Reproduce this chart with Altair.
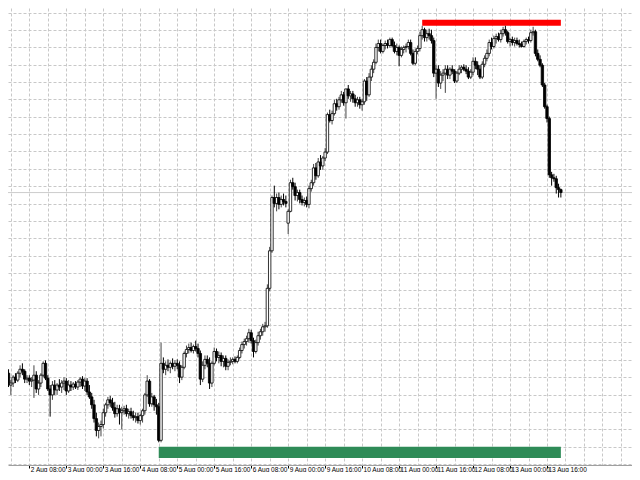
import json
import altair as alt
import pandas as pd

# Hourly candles (bar index 0 = 30 Jul 20:00 ... 242 = 13 Aug 22:00), prices
open_ = [0.90470, 0.90490, 0.90470, 0.90460, 0.90400, 0.90410, 0.90440, 0.90425, 0.90460, 0.90480,
         0.90470, 0.90430, 0.90435, 0.90420, 0.90425, 0.90450, 0.90380, 0.90410, 0.90450, 0.90510,
         0.90435, 0.90380, 0.90350, 0.90400, 0.90375, 0.90400, 0.90390, 0.90410, 0.90420, 0.90370,
         0.90400, 0.90390, 0.90405, 0.90390, 0.90415, 0.90430, 0.90395, 0.90420, 0.90365, 0.90340,
         0.90300, 0.90230, 0.90170, 0.90190, 0.90200, 0.90260, 0.90300, 0.90325, 0.90310, 0.90285,
         0.90255, 0.90280, 0.90260, 0.90270, 0.90280, 0.90255, 0.90265, 0.90245, 0.90235, 0.90240,
         0.90220, 0.90245, 0.90270, 0.90350, 0.90420, 0.90305, 0.90340, 0.90300, 0.90290, 0.90120,
         0.90510, 0.90480, 0.90500, 0.90490, 0.90510, 0.90495, 0.90510, 0.90500, 0.90440, 0.90490,
         0.90560, 0.90580, 0.90590, 0.90575, 0.90595, 0.90585, 0.90560, 0.90430, 0.90500, 0.90530,
         0.90510, 0.90410, 0.90510, 0.90570, 0.90540, 0.90550, 0.90520, 0.90535, 0.90495, 0.90515,
         0.90520, 0.90530, 0.90520, 0.90540, 0.90575, 0.90605, 0.90620, 0.90635, 0.90665, 0.90625,
         0.90570, 0.90615, 0.90650, 0.90670, 0.90695, 0.90700, 0.90890, 0.91080, 0.91350, 0.91320,
         0.91350, 0.91315, 0.91340, 0.91330, 0.91220, 0.91280, 0.91425, 0.91405, 0.91360, 0.91375,
         0.91340, 0.91325, 0.91335, 0.91315, 0.91395, 0.91425, 0.91500, 0.91460, 0.91530, 0.91510,
         0.91550, 0.91580, 0.91770, 0.91740, 0.91775, 0.91825, 0.91810, 0.91845, 0.91870, 0.91830,
         0.91900, 0.91865, 0.91875, 0.91850, 0.91830, 0.91845, 0.91820, 0.91835, 0.91940, 0.91870,
         0.91960, 0.92000, 0.92035, 0.92110, 0.92130, 0.92090, 0.92120, 0.92130, 0.92120, 0.92150,
         0.92120, 0.92090, 0.92110, 0.92070, 0.92100, 0.92110, 0.92115, 0.92135, 0.92080, 0.92030,
         0.92090, 0.92105, 0.92170, 0.92200, 0.92160, 0.92180, 0.92170, 0.92145, 0.91980, 0.92000,
         0.91930, 0.91970, 0.91980, 0.92000, 0.91970, 0.92000, 0.91990, 0.91940, 0.91980, 0.92000,
         0.92010, 0.92000, 0.91990, 0.91960, 0.91985, 0.92040, 0.92020, 0.92000, 0.91960, 0.92025,
         0.92055, 0.92080, 0.92135, 0.92115, 0.92155, 0.92165, 0.92150, 0.92180, 0.92200, 0.92185,
         0.92140, 0.92150, 0.92135, 0.92145, 0.92130, 0.92125, 0.92115, 0.92140, 0.92150, 0.92145,
         0.92185, 0.92190, 0.92080, 0.92050, 0.92020, 0.91920, 0.91810, 0.91750, 0.91465, 0.91450,
         0.91445, 0.91400, 0.91390]

high = [0.90500, 0.90510, 0.90490, 0.90480, 0.90425, 0.90450, 0.90460, 0.90470, 0.90500, 0.90510,
        0.90480, 0.90450, 0.90450, 0.90440, 0.90500, 0.90470, 0.90425, 0.90460, 0.90520, 0.90525,
        0.90450, 0.90400, 0.90420, 0.90425, 0.90410, 0.90430, 0.90425, 0.90440, 0.90435, 0.90425,
        0.90420, 0.90415, 0.90420, 0.90425, 0.90440, 0.90445, 0.90435, 0.90435, 0.90400, 0.90360,
        0.90325, 0.90260, 0.90210, 0.90220, 0.90280, 0.90310, 0.90340, 0.90345, 0.90335, 0.90315,
        0.90300, 0.90300, 0.90290, 0.90295, 0.90300, 0.90280, 0.90285, 0.90270, 0.90260, 0.90260,
        0.90255, 0.90280, 0.90360, 0.90450, 0.90430, 0.90360, 0.90350, 0.90330, 0.90310, 0.90615,
        0.90540, 0.90520, 0.90530, 0.90520, 0.90535, 0.90525, 0.90530, 0.90520, 0.90500, 0.90570,
        0.90600, 0.90610, 0.90615, 0.90605, 0.90625, 0.90610, 0.90575, 0.90520, 0.90550, 0.90550,
        0.90540, 0.90520, 0.90590, 0.90585, 0.90570, 0.90565, 0.90550, 0.90550, 0.90530, 0.90540,
        0.90540, 0.90545, 0.90550, 0.90590, 0.90620, 0.90635, 0.90650, 0.90685, 0.90680, 0.90640,
        0.90630, 0.90670, 0.90685, 0.90710, 0.90720, 0.90910, 0.91100, 0.91360, 0.91410, 0.91370,
        0.91375, 0.91360, 0.91370, 0.91360, 0.91290, 0.91440, 0.91450, 0.91425, 0.91390, 0.91390,
        0.91360, 0.91350, 0.91355, 0.91410, 0.91440, 0.91520, 0.91525, 0.91550, 0.91565, 0.91560,
        0.91600, 0.91780, 0.91795, 0.91790, 0.91845, 0.91850, 0.91860, 0.91890, 0.91885, 0.91900,
        0.91920, 0.91890, 0.91890, 0.91870, 0.91860, 0.91860, 0.91850, 0.91950, 0.91960, 0.91980,
        0.92020, 0.92050, 0.92130, 0.92150, 0.92150, 0.92130, 0.92145, 0.92150, 0.92160, 0.92160,
        0.92140, 0.92130, 0.92120, 0.92115, 0.92120, 0.92130, 0.92150, 0.92150, 0.92100, 0.92105,
        0.92120, 0.92190, 0.92220, 0.92210, 0.92200, 0.92205, 0.92200, 0.92160, 0.92020, 0.92020,
        0.91990, 0.92000, 0.92020, 0.92020, 0.92010, 0.92020, 0.92000, 0.91990, 0.92020, 0.92020,
        0.92025, 0.92020, 0.92010, 0.92000, 0.92060, 0.92060, 0.92040, 0.92020, 0.92040, 0.92070,
        0.92100, 0.92150, 0.92160, 0.92170, 0.92180, 0.92185, 0.92200, 0.92215, 0.92220, 0.92195,
        0.92160, 0.92165, 0.92160, 0.92160, 0.92150, 0.92140, 0.92150, 0.92160, 0.92165, 0.92200,
        0.92215, 0.92200, 0.92100, 0.92070, 0.92030, 0.91930, 0.91820, 0.91760, 0.91480, 0.91470,
        0.91460, 0.91420, 0.91395]

low = [0.90450, 0.90460, 0.90440, 0.90390, 0.90350, 0.90390, 0.90410, 0.90415, 0.90440, 0.90450,
       0.90410, 0.90410, 0.90400, 0.90390, 0.90335, 0.90360, 0.90350, 0.90390, 0.90440, 0.90425,
       0.90370, 0.90240, 0.90325, 0.90350, 0.90350, 0.90370, 0.90360, 0.90375, 0.90350, 0.90360,
       0.90370, 0.90375, 0.90380, 0.90375, 0.90390, 0.90380, 0.90370, 0.90350, 0.90330, 0.90280,
       0.90210, 0.90140, 0.90130, 0.90140, 0.90180, 0.90240, 0.90280, 0.90290, 0.90270, 0.90235,
       0.90240, 0.90200, 0.90175, 0.90250, 0.90240, 0.90230, 0.90230, 0.90220, 0.90210, 0.90205,
       0.90200, 0.90210, 0.90250, 0.90340, 0.90290, 0.90290, 0.90270, 0.90250, 0.90110, 0.90110,
       0.90460, 0.90450, 0.90470, 0.90460, 0.90480, 0.90470, 0.90480, 0.90410, 0.90425, 0.90480,
       0.90540, 0.90560, 0.90565, 0.90560, 0.90570, 0.90540, 0.90400, 0.90415, 0.90480, 0.90490,
       0.90380, 0.90390, 0.90500, 0.90520, 0.90510, 0.90495, 0.90490, 0.90475, 0.90475, 0.90500,
       0.90505, 0.90510, 0.90510, 0.90530, 0.90560, 0.90585, 0.90600, 0.90615, 0.90610, 0.90540,
       0.90560, 0.90600, 0.90630, 0.90650, 0.90670, 0.90690, 0.90875, 0.91070, 0.91300, 0.91280,
       0.91290, 0.91300, 0.91310, 0.91300, 0.91165, 0.91275, 0.91390, 0.91335, 0.91330, 0.91320,
       0.91310, 0.91305, 0.91300, 0.91295, 0.91380, 0.91410, 0.91440, 0.91450, 0.91490, 0.91490,
       0.91535, 0.91570, 0.91730, 0.91720, 0.91765, 0.91790, 0.91795, 0.91830, 0.91815, 0.91750,
       0.91850, 0.91835, 0.91830, 0.91810, 0.91810, 0.91800, 0.91790, 0.91820, 0.91840, 0.91860,
       0.91940, 0.91980, 0.92025, 0.92090, 0.92080, 0.92080, 0.92100, 0.92105, 0.92110, 0.92110,
       0.92080, 0.92070, 0.92015, 0.92060, 0.92080, 0.92085, 0.92100, 0.92070, 0.92020, 0.92020,
       0.92075, 0.92090, 0.92150, 0.92140, 0.92140, 0.92150, 0.92130, 0.91960, 0.91850, 0.91910,
       0.91900, 0.91940, 0.91880, 0.91950, 0.91950, 0.91975, 0.91930, 0.91930, 0.91970, 0.91980,
       0.91990, 0.91975, 0.91950, 0.91950, 0.91970, 0.92000, 0.91970, 0.91950, 0.91950, 0.92010,
       0.92040, 0.92065, 0.92100, 0.92105, 0.92130, 0.92140, 0.92135, 0.92165, 0.92170, 0.92130,
       0.92115, 0.92120, 0.92115, 0.92120, 0.92110, 0.92110, 0.92110, 0.92125, 0.92130, 0.92135,
       0.92170, 0.92065, 0.92040, 0.92010, 0.91910, 0.91800, 0.91730, 0.91450, 0.91410, 0.91430,
       0.91370, 0.91350, 0.91350]

close = [0.90490, 0.90470, 0.90460, 0.90400, 0.90410, 0.90440, 0.90425, 0.90460, 0.90480, 0.90470,
         0.90430, 0.90435, 0.90420, 0.90425, 0.90450, 0.90380, 0.90410, 0.90450, 0.90510, 0.90435,
         0.90380, 0.90350, 0.90400, 0.90375, 0.90400, 0.90390, 0.90410, 0.90420, 0.90370, 0.90400,
         0.90390, 0.90405, 0.90390, 0.90415, 0.90430, 0.90395, 0.90420, 0.90365, 0.90340, 0.90300,
         0.90230, 0.90170, 0.90190, 0.90200, 0.90260, 0.90300, 0.90325, 0.90310, 0.90285, 0.90255,
         0.90280, 0.90260, 0.90270, 0.90280, 0.90255, 0.90265, 0.90245, 0.90235, 0.90240, 0.90220,
         0.90245, 0.90270, 0.90350, 0.90420, 0.90305, 0.90340, 0.90300, 0.90290, 0.90120, 0.90510,
         0.90480, 0.90500, 0.90490, 0.90510, 0.90495, 0.90510, 0.90500, 0.90440, 0.90490, 0.90560,
         0.90580, 0.90590, 0.90575, 0.90595, 0.90585, 0.90560, 0.90430, 0.90500, 0.90530, 0.90510,
         0.90410, 0.90510, 0.90570, 0.90540, 0.90550, 0.90520, 0.90535, 0.90495, 0.90515, 0.90520,
         0.90530, 0.90520, 0.90540, 0.90575, 0.90605, 0.90620, 0.90635, 0.90665, 0.90625, 0.90570,
         0.90615, 0.90650, 0.90670, 0.90695, 0.90700, 0.90890, 0.91080, 0.91350, 0.91320, 0.91350,
         0.91315, 0.91340, 0.91330, 0.91320, 0.91280, 0.91425, 0.91405, 0.91360, 0.91375, 0.91340,
         0.91325, 0.91335, 0.91315, 0.91395, 0.91425, 0.91500, 0.91460, 0.91530, 0.91510, 0.91550,
         0.91580, 0.91770, 0.91740, 0.91775, 0.91825, 0.91810, 0.91845, 0.91870, 0.91830, 0.91900,
         0.91865, 0.91875, 0.91850, 0.91830, 0.91845, 0.91820, 0.91835, 0.91940, 0.91870, 0.91960,
         0.92000, 0.92035, 0.92110, 0.92130, 0.92090, 0.92120, 0.92130, 0.92120, 0.92150, 0.92120,
         0.92090, 0.92110, 0.92070, 0.92100, 0.92110, 0.92115, 0.92135, 0.92080, 0.92030, 0.92090,
         0.92105, 0.92170, 0.92200, 0.92160, 0.92180, 0.92170, 0.92145, 0.91980, 0.92000, 0.91930,
         0.91970, 0.91980, 0.92000, 0.91970, 0.92000, 0.91990, 0.91940, 0.91980, 0.92000, 0.92010,
         0.92000, 0.91990, 0.91960, 0.91985, 0.92040, 0.92020, 0.92000, 0.91960, 0.92025, 0.92055,
         0.92080, 0.92135, 0.92115, 0.92155, 0.92165, 0.92150, 0.92180, 0.92200, 0.92185, 0.92140,
         0.92150, 0.92135, 0.92145, 0.92130, 0.92125, 0.92115, 0.92140, 0.92150, 0.92145, 0.92185,
         0.92190, 0.92080, 0.92050, 0.92020, 0.91920, 0.91810, 0.91750, 0.91465, 0.91450, 0.91445,
         0.91400, 0.91390, 0.91375]

# Time-scale labels (bar index of each label)
tick_bars = [12, 28, 44, 60, 76, 92, 108, 124, 140, 156, 172, 188, 204, 220, 236]
tick_labels = ["2 Aug 08:00", "3 Aug 00:00", "3 Aug 16:00", "4 Aug 08:00", "5 Aug 00:00",
               "5 Aug 16:00", "6 Aug 08:00", "9 Aug 00:00", "9 Aug 16:00", "10 Aug 08:00",
               "11 Aug 00:00", "11 Aug 16:00", "12 Aug 08:00", "13 Aug 00:00", "13 Aug 16:00"]

# Range rectangles (support / resistance)
zone_start = [68, 182]
zone_end = [242, 242]
zone_low = [0.90030, 0.92220]
zone_high = [0.90087, 0.92250]
zone_color = ["#2e8b57", "#ff0000"]

bid_price = [0.91375]

# ---- styling / layout ----
grid_base = 0.9
grid_step = 0.0008795
x_domain = [2.77, 272.78]
y_domain = [0.89995, 0.92310]

df = pd.DataFrame({"bar": list(range(len(open_))), "open": open_, "high": high,
                   "low": low, "close": close})
zdf = pd.DataFrame({"start": zone_start, "end": zone_end, "lo": zone_low,
                    "hi": zone_high, "color": zone_color})
bdf = pd.DataFrame({"price": bid_price})

xs = alt.Scale(domain=x_domain, nice=False, zero=False, padding=0)
ys = alt.Scale(domain=y_domain, nice=False, zero=False, padding=0)

grid_color = "#c8c8c8"
grid_x_axis = alt.Axis(values=list(range(4, 273, 8)), grid=True, gridColor=grid_color,
                       gridDash=[3, 2], gridWidth=1, labels=False, ticks=False,
                       domain=False, title=None, orient="bottom")
grid_y_axis = alt.Axis(values=[round(grid_base + k * grid_step, 7) for k in range(27)],
                       grid=True, gridColor=grid_color, gridDash=[3, 2], gridWidth=1,
                       labels=False, ticks=False, domain=False, title=None)

label_expr = json.dumps(tick_labels) + "[round((datum.value - 12) / 16)]"
label_x_axis = alt.Axis(values=tick_bars, labelExpr=label_expr, grid=False, ticks=True,
                        tickSize=3, tickColor="#000000", tickWidth=1, domain=True,
                        domainColor="#a0a0a0", domainWidth=1, labelAlign="left",
                        labelBaseline="top", labelPadding=-2, labelOffset=1,
                        labelFont="Liberation Sans Narrow, Liberation Sans",
                        labelFontSize=6.5, labelColor="#000000", labelOverlap=False,
                        labelFlush=False, title=None, orient="bottom")

bull = "datum.close >= datum.open"

zones = alt.Chart(zdf).mark_rect(clip=True).encode(
    x=alt.X("start:Q", scale=xs, axis=None), x2="end:Q",
    y=alt.Y("lo:Q", scale=ys, axis=None), y2="hi:Q",
    color=alt.Color("color:N", scale=None))

bid = alt.Chart(bdf).mark_rule(color="#cccccc", strokeWidth=1).encode(
    y=alt.Y("price:Q", scale=ys, axis=None))

wicks = alt.Chart(df).mark_rule(clip=True, strokeWidth=1).encode(
    x=alt.X("bar:Q", scale=xs, axis=grid_x_axis),
    y=alt.Y("low:Q", scale=ys, axis=grid_y_axis), y2="high:Q",
    color=alt.condition(bull, alt.value("#444444"), alt.value("#000000")))

bodies = alt.Chart(df).mark_bar(size=2.4, clip=True, stroke="#000000", strokeWidth=0.8).encode(
    x=alt.X("bar:Q", scale=xs, axis=label_x_axis),
    y=alt.Y("open:Q", scale=ys, axis=None), y2="close:Q",
    fill=alt.condition(bull, alt.value("#ffffff"), alt.value("#000000")))

chart = alt.layer(zones, bid, wicks, bodies).resolve_axis(
    x="independent", y="independent"
).properties(
    width=624, height=457,
    autosize=alt.AutoSizeParams(type="none"),
    padding={"left": 0, "right": 0, "top": 0, "bottom": 7},
    background="#ffffff",
).configure_view(strokeWidth=0)

chart.save("out.html", embed_options={"renderer": "svg", "actions": False})
